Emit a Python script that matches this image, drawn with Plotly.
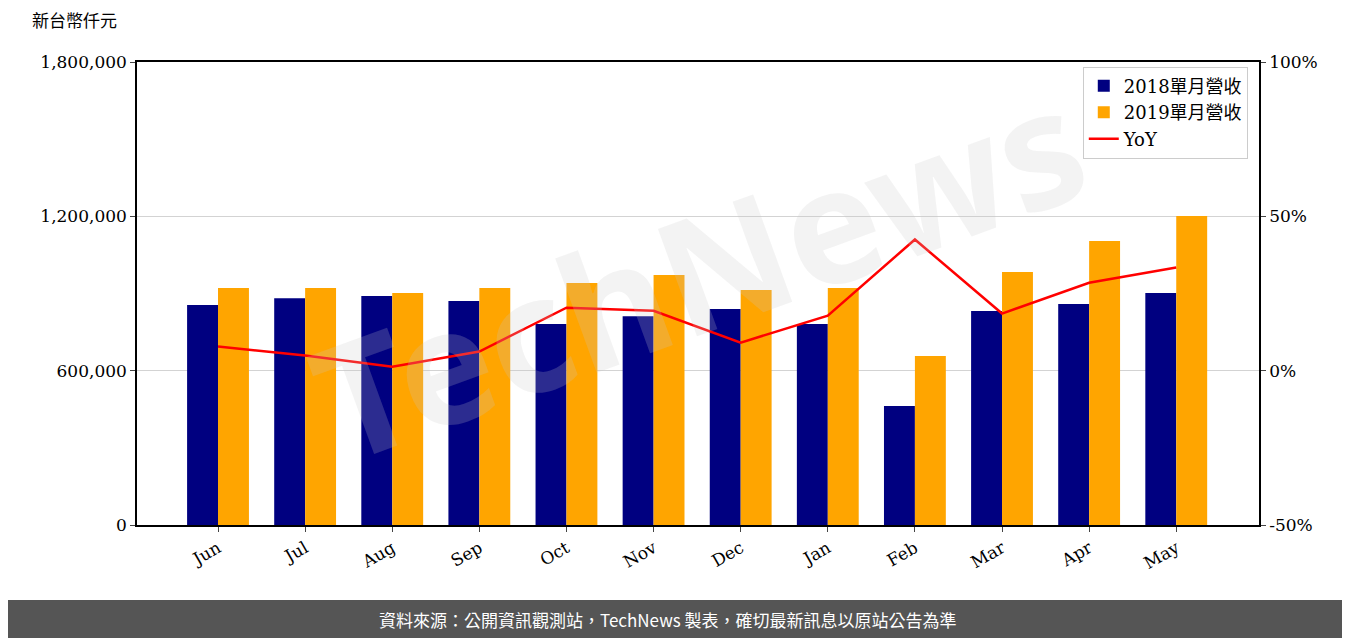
import plotly.graph_objects as go

months = ["Jun","Jul","Aug","Sep","Oct","Nov","Dec","Jan","Feb","Mar","Apr","May"]
rev2018 = [855000,882000,890000,871000,781000,812000,840000,781000,463000,832000,859000,902000]
rev2019 = [921000,921000,902000,921000,941000,972000,914000,921000,657000,984000,1104000,1201000]
yoy = [7.8,4.9,1.3,6.2,20.4,19.4,9.1,17.8,42.5,18.5,28.5,33.4]

F = "DejaVu Serif, Noto Sans CJK TC"
fig = go.Figure()
fig.add_bar(x=months, y=rev2018, name="2018單月營收", marker=dict(color="#000080", line_width=0))
fig.add_bar(x=months, y=rev2019, name="2019單月營收", marker=dict(color="#FFA500", line_width=0))
fig.add_scatter(x=months, y=yoy, name="YoY", mode="lines", line=dict(color="red", width=2.5), yaxis="y2")

fig.update_layout(
    width=1350, height=638, plot_bgcolor="white", paper_bgcolor="white",
    margin=dict(l=129, r=99, t=54, b=121),
    barmode="group", bargap=0.29, bargroupgap=0,
    font=dict(family=F, size=17, color="black"),
    xaxis=dict(tickangle=-30, showline=True, linecolor="black", linewidth=1.5, mirror=True,
               ticks="outside", tickfont=dict(size=17), range=[-0.93, 11.95]),
    yaxis=dict(range=[0,1800000], tickvals=[0,600000,1200000,1800000], tickformat=",",
               showgrid=True, gridcolor="#d3d3d3", showline=True, linecolor="black", linewidth=1.5,
               ticks="outside", zeroline=False),
    yaxis2=dict(range=[-50,100], overlaying="y", side="right", tickvals=[-50,0,50,100],
                ticktext=["-50%","0%","50%","100%"], showgrid=False, ticks="outside", zeroline=False,
                showline=True, linecolor="black", linewidth=1.5),
    legend=dict(x=0.99, y=0.99, xanchor="right", yanchor="top", bordercolor="#cccccc",
                borderwidth=1, bgcolor="rgba(255,255,255,0.8)", font=dict(size=18)),
    annotations=[
        dict(text="新台幣仟元", xref="paper", yref="paper", x=-0.095, y=1.06, xanchor="left",
             yanchor="bottom", showarrow=False, font=dict(size=17, family="Noto Sans CJK TC")),
        dict(text="<b>TechNews</b>", xref="paper", yref="paper", x=0.5, y=0.55, showarrow=False,
             textangle=-20, font=dict(size=160, color="rgba(200,200,200,0.22)", family="Noto Sans")),
        dict(text="資料來源：公開資訊觀測站，TechNews 製表，確切最新訊息以原站公告為準",
             xref="paper", yref="paper", x=0.473, y=0, yanchor="middle", yshift=-94, showarrow=False,
             font=dict(size=17, color="white", family="Noto Sans CJK TC")),
    ],
    shapes=[dict(type="rect", xref="paper", yref="paper", x0=-0.5, x1=1.5,
                 y0=-(650-525)/463, y1=-(600-525)/463, fillcolor="#555555", line_width=0, layer="below")],
)
fig.write_html("out.html")
